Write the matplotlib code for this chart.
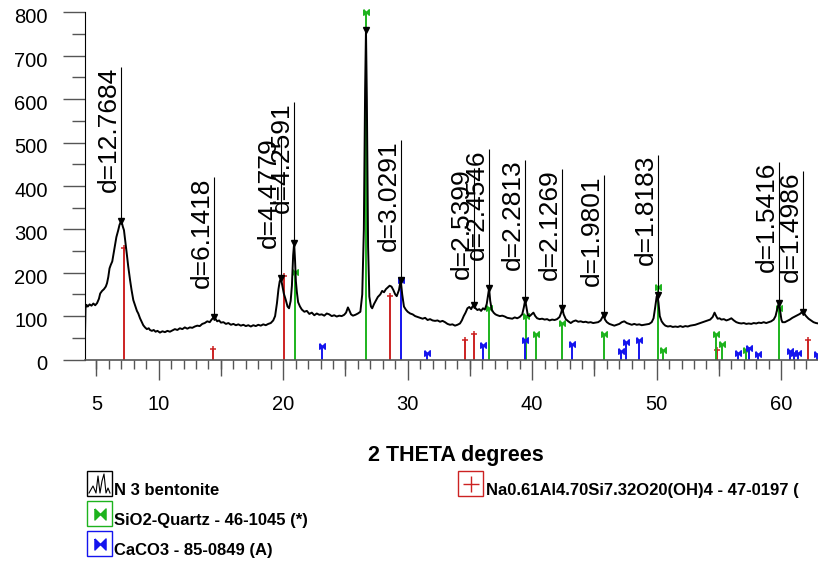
import matplotlib
matplotlib.use("Agg")
import matplotlib.pyplot as plt
from matplotlib.patches import Rectangle
from matplotlib.lines import Line2D
from matplotlib.path import Path
from matplotlib.transforms import ScaledTranslation

plt.rcParams["font.family"] = ["Liberation Sans", "DejaVu Sans"]

two_theta = [
    4.08, 4.12, 4.2, 4.3, 4.45, 4.6, 4.75, 4.9, 5.05, 5.2, 5.3, 5.45, 5.6, 5.75, 5.85, 5.95,
    6.05, 6.15, 6.27, 6.38, 6.49, 6.6, 6.75, 6.85, 6.97, 7.05, 7.12, 7.21, 7.32, 7.43, 7.55,
    7.7, 7.82, 7.96, 8.1, 8.25, 8.36, 8.5, 8.65, 8.76, 8.9, 9.05, 9.2, 9.3, 9.45, 9.6, 9.75,
    9.9, 10.1, 10.3, 10.5, 10.7, 10.9, 11.1, 11.3, 11.5, 11.7, 11.9, 12.1, 12.3, 12.5, 12.7,
    12.9, 13.1, 13.3, 13.5, 13.7, 13.9, 14.1, 14.25, 14.41, 14.55, 14.7, 14.85, 15.0, 15.2,
    15.4, 15.6, 15.8, 16.0, 16.2, 16.4, 16.6, 16.8, 17.0, 17.2, 17.4, 17.6, 17.8, 18.0, 18.2,
    18.4, 18.6, 18.8, 19.0, 19.2, 19.35, 19.5, 19.62, 19.72, 19.82, 19.92, 20.05, 20.2, 20.35,
    20.47, 20.6, 20.7, 20.8, 20.88, 20.95, 21.02, 21.1, 21.2, 21.35, 21.5, 21.7, 21.9, 22.1,
    22.3, 22.5, 22.7, 22.9, 23.1, 23.3, 23.5, 23.7, 23.9, 24.1, 24.3, 24.5, 24.7, 24.9, 25.05,
    25.2, 25.3, 25.45, 25.6, 25.8, 26.0, 26.2, 26.35, 26.48, 26.58, 26.65, 26.72, 26.82, 26.92,
    27.05, 27.15, 27.3, 27.45, 27.6, 27.8, 27.95, 28.1, 28.25, 28.4, 28.55, 28.7, 28.85, 29.0,
    29.12, 29.3, 29.44, 29.56, 29.7, 29.85, 30.0, 30.2, 30.4, 30.6, 30.8, 31.0, 31.2, 31.4,
    31.6, 31.8, 32.0, 32.2, 32.4, 32.6, 32.8, 33.0, 33.2, 33.4, 33.6, 33.8, 34.0, 34.2, 34.35,
    34.5, 34.65, 34.8, 34.95, 35.1, 35.2, 35.33, 35.45, 35.6, 35.75, 35.9, 36.05, 36.2, 36.35,
    36.47, 36.54, 36.63, 36.75, 36.9, 37.05, 37.2, 37.4, 37.6, 37.8, 38.0, 38.2, 38.4, 38.6,
    38.8, 39.0, 39.2, 39.33, 39.44, 39.55, 39.65, 39.8, 39.95, 40.1, 40.25, 40.4, 40.6, 40.8,
    41.0, 41.2, 41.4, 41.6, 41.8, 42.0, 42.2, 42.33, 42.42, 42.53, 42.7, 42.9, 43.1, 43.3, 43.5,
    43.7, 43.9, 44.1, 44.3, 44.5, 44.7, 44.9, 45.1, 45.3, 45.5, 45.65, 45.74, 45.85, 46.0, 46.2,
    46.4, 46.6, 46.8, 47.0, 47.2, 47.4, 47.6, 47.8, 48.0, 48.2, 48.4, 48.6, 48.8, 49.0, 49.2,
    49.4, 49.6, 49.75, 49.88, 50.0, 50.07, 50.15, 50.25, 50.4, 50.55, 50.7, 50.9, 51.1, 51.3,
    51.5, 51.7, 51.9, 52.1, 52.3, 52.5, 52.7, 52.9, 53.1, 53.3, 53.5, 53.7, 53.9, 54.1, 54.3,
    54.5, 54.65, 54.78, 54.9, 55.05, 55.2, 55.4, 55.6, 55.8, 56.0, 56.2, 56.4, 56.6, 56.8, 57.0,
    57.2, 57.4, 57.6, 57.8, 58.0, 58.2, 58.4, 58.6, 58.8, 59.0, 59.2, 59.4, 59.55, 59.7, 59.82,
    59.92, 60.02, 60.1, 60.3, 60.5, 60.7, 60.9, 61.1, 61.3, 61.5, 61.72, 61.85, 62.0, 62.2,
    62.4, 62.6, 62.8, 63.0,
]
counts = [
    56, 118, 126, 122, 127, 124, 129, 125, 130, 140, 152, 158, 162, 168, 176, 190,
    210, 218, 226, 245, 264, 282, 298, 310, 318, 314, 306, 298, 272, 245, 215,
    183, 160, 137, 125, 112, 106, 95, 86, 79, 74, 70, 72, 68, 66, 68, 64,
    66, 62, 65, 63, 66, 64, 67, 70, 68, 72, 70, 74, 71, 74, 73,
    76, 78, 77, 82, 84, 88, 86, 92, 97, 94, 88, 90, 85, 86,
    82, 84, 80, 82, 79, 81, 78, 80, 77, 79, 76, 79, 77, 80, 78,
    81, 79, 82, 84, 90, 100, 130, 162, 180, 187, 172, 152, 138, 122,
    118, 135, 170, 240, 268, 230, 180, 155, 132, 122, 115, 110, 112, 105,
    108, 102, 106, 103, 104, 101, 106, 104, 100, 102, 99, 101, 100, 103, 108,
    120, 114, 104, 101, 103, 106, 110, 150, 300, 620, 760, 600, 260, 145,
    122, 118, 128, 136, 144, 150, 158, 155, 162, 166, 170, 168, 160, 150,
    146, 160, 183, 150, 122, 115, 110, 106, 104, 100, 98, 96, 94, 96,
    91, 93, 90, 89, 90, 87, 89, 86, 82, 80, 81, 78, 80, 83, 90,
    100, 108, 118, 121, 116, 122, 125, 118, 114, 116, 112, 118, 115, 128,
    150, 164, 135, 115, 108, 104, 102, 100, 101, 99, 96, 95, 94, 97,
    95, 98, 104, 120, 137, 118, 102, 100, 104, 108, 100, 95, 93, 94,
    92, 93, 90, 92, 91, 93, 98, 108, 118, 104, 93, 88, 84, 88, 90,
    87, 88, 86, 87, 85, 86, 84, 85, 86, 90, 98, 102, 92, 86, 82,
    80, 78, 80, 82, 86, 88, 84, 82, 80, 82, 80, 81, 79, 80, 81,
    82, 86, 95, 120, 145, 148, 130, 100, 88, 82, 78, 76, 77, 75,
    76, 75, 77, 75, 77, 76, 78, 79, 80, 82, 84, 86, 88, 90, 92,
    98, 108, 100, 94, 95, 92, 93, 90, 92, 95, 90, 86, 84, 83, 84,
    82, 83, 82, 84, 83, 85, 84, 86, 84, 86, 88, 92, 100, 118, 130,
    112, 92, 86, 86, 89, 92, 96, 99, 102, 105, 110, 106, 100, 94,
    90, 86, 84, 83,
]

# labelled peaks
peak_d = ["12.7684", "6.1418", "4.4779", "4.2591", "3.0291", "2.5399", "2.4546",
          "2.2813", "2.1269", "1.9801", "1.8183", "1.5416", "1.4986"]
peak_pos = [6.97, 14.41, 19.82, 20.88, 29.44, 35.33, 36.54, 39.44, 42.42, 45.74, 50.07, 59.82, 61.72]
peak_int = [318, 97, 187, 268, 183, 125, 164, 137, 118, 102, 148, 130, 110]
label_top = [674, 420, 513, 593, 506, 441, 485, 460, 439, 425, 471, 455, 434]
# main quartz reflection, marked but not labelled
main_pos = [26.65]
main_int = [760]

# reference cards
mont_pos = [7.21, 14.39, 20.06, 28.6, 34.6, 35.33, 54.87, 62.18]
mont_int = [257, 24, 193, 146, 45, 58, 21, 46]
quartz_pos = [20.95, 26.65, 36.53, 39.47, 40.3, 42.4, 45.74, 50.07, 50.53, 54.77, 55.24, 57.14, 59.84]
quartz_int = [202, 800, 118, 100, 58, 83, 58, 166, 22, 58, 35, 22, 118]
calc_pos = [23.14, 29.44, 31.52, 36.02, 39.44, 43.2, 47.12, 47.57, 48.58, 56.52, 57.4, 58.13,
            60.71, 61.05, 61.37, 62.85]
calc_int = [31, 184, 14, 33, 45, 35, 20, 41, 45, 16, 26, 13, 20, 16, 16, 13]

RED = "#CC2222"
GREEN = "#1DB31D"
BLUE = "#1414EE"
GRAY = "#555555"

bowtie = Path([(-1, 1), (0, 0), (1, 1), (1, -1), (0, 0), (-1, -1), (-1, 1)])

W, H = 818, 561
fig = plt.figure(figsize=(W / 100, H / 100), dpi=100)
ax = fig.add_axes([85 / W, (H - 359.5) / H, (W - 85) / W, (359.5 - 12.3) / H])
ax.set_xlim(4.08, 62.96)
ax.set_ylim(0, 800)

# reference sticks
ax.vlines(mont_pos, 0, mont_int, color=RED, lw=1.4)
ax.plot(mont_pos, mont_int, ls="none", marker="+", ms=5, mew=1.1, color=RED)
ax.vlines(quartz_pos, 0, quartz_int, color=GREEN, lw=1.4)
ax.plot(quartz_pos, quartz_int, ls="none", marker=bowtie, ms=4, color=GREEN, clip_on=False)
ax.vlines(calc_pos, 0, calc_int, color=BLUE, lw=1.4)
ax.plot(calc_pos, calc_int, ls="none", marker=bowtie, ms=4, color=BLUE)

# pattern
ax.plot(two_theta, counts, color="black", lw=1.4)

# peak markers, lines and d labels
ax.vlines(peak_pos, peak_int, label_top, color="black", lw=0.8)
ax.plot(peak_pos + main_pos, peak_int + main_int, ls="none", marker="v", ms=5, color="black")
for x, top, d in zip(peak_pos, label_top, peak_d):
    ax.text(x, top, f"d={d}", rotation=90, ha="right", va="top", fontsize=19)

# axes styling
for side in ("top", "right"):
    ax.spines[side].set_visible(False)
ax.spines["left"].set_color("black")
ax.spines["bottom"].set_color(GRAY)
ax.spines["bottom"].set_linewidth(1.2)

ax.set_yticks(range(0, 801, 100))
ax.set_yticks(range(50, 800, 100), minor=True)
ax.tick_params(axis="y", which="major", length=15.8, width=1, color=GRAY, pad=11, labelsize=14.5)
ax.tick_params(axis="y", which="minor", length=9.4, width=1, color=GRAY)
for t in ax.get_yticklabels():
    t.set_verticalalignment("top")
    t.set_transform(t.get_transform() + ScaledTranslation(0, 3 / 72, fig.dpi_scale_trans))

ax.set_xticks(range(10, 61, 10))
ax.set_xticks(range(5, 63), minor=True)
ax.tick_params(axis="x", which="major", length=14.4, width=1, color=GRAY, pad=11.5, labelsize=14.5)
ax.tick_params(axis="x", which="minor", length=6.5, width=1, color=GRAY)

sec = ax.secondary_xaxis("bottom")
fives = list(range(5, 60, 10))
sec.set_xticks(fives, labels=["5"] + [""] * (len(fives) - 1))
sec.tick_params(length=11.5, width=1, color=GRAY, pad=14.4, labelsize=14.5)
sec.spines["bottom"].set_visible(False)

fig.text(456 / W, 1 - 455 / H, "2 THETA degrees", ha="center", va="center",
         fontsize=15.5, weight="bold")


# legend drawn in figure pixels
def fx(px):
    return px / W


def fy(py):
    return 1 - py / H


def legend_box(x0, y0, edge):
    fig.patches.append(Rectangle((fx(x0), fy(y0 + 25)), 25 / W, 25 / H, transform=fig.transFigure,
                                 fill=False, edgecolor=edge, lw=1.0))


legend_box(87, 471, "black")
zig_x = [89, 93, 96, 98, 100, 102, 104, 106, 108, 110]
zig_y = [493, 486, 493, 476, 493, 481, 474, 493, 488, 493]
fig.lines.append(Line2D([fx(v) for v in zig_x], [fy(v) for v in zig_y], transform=fig.transFigure,
                        color="black", lw=0.8))
legend_box(87, 501, GREEN)
fig.lines.append(Line2D([fx(99.5)], [fy(513.5)], transform=fig.transFigure, marker=bowtie, ms=8,
                        color=GREEN, ls="none"))
legend_box(87, 531, BLUE)
fig.lines.append(Line2D([fx(99.5)], [fy(543.5)], transform=fig.transFigure, marker=bowtie, ms=8,
                        color=BLUE, ls="none"))
legend_box(458, 471, RED)
fig.lines.append(Line2D([fx(470.5)], [fy(483.5)], transform=fig.transFigure, marker="+", ms=12,
                        mew=1.0, color=RED, ls="none"))

legend_text = ["N 3 bentonite", "SiO2-Quartz - 46-1045 (*)", "CaCO3 - 85-0849 (A)",
               "Na0.61Al4.70Si7.32O20(OH)4 - 47-0197 ("]
legend_xy = [(114, 495), (114, 525), (114, 555), (486, 495)]
for txt, (lx, ly) in zip(legend_text, legend_xy):
    fig.text(fx(lx), fy(ly), txt, ha="left", va="baseline", fontsize=12, weight="bold")

fig.savefig("out.png", dpi=100, facecolor="white")
